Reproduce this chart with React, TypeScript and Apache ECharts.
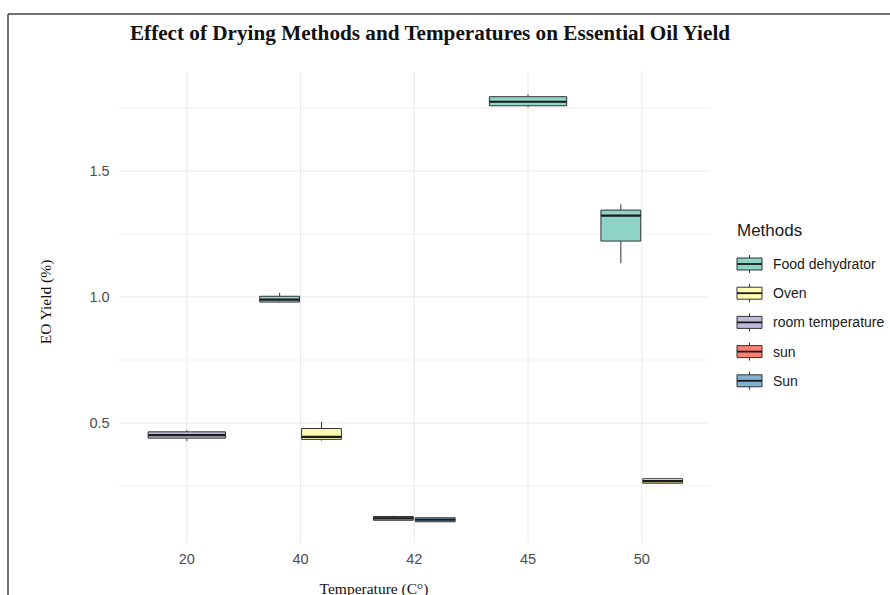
import React, { useEffect, useRef } from "react";
import * as echarts from "echarts";

const temperatures = ["20", "40", "42", "45", "50"];
const methods = ["Food dehydrator", "Oven", "room temperature", "sun", "Sun"];
const methodColors = ["#8DD3C7", "#FFFFB3", "#BEBADA", "#FB8072", "#80B1D3"];

// one entry per box
const boxTemps = ["20", "40", "40", "42", "42", "45", "50", "50"];
const boxMethods = ["room temperature", "Food dehydrator", "Oven", "sun", "Sun", "Food dehydrator", "Food dehydrator", "Oven"];
const boxMin = [0.429, 0.978, 0.43, 0.112, 0.107, 1.753, 1.134, 0.258];
const boxQ1 = [0.44, 0.98, 0.435, 0.114, 0.108, 1.759, 1.222, 0.261];
const boxMedian = [0.452, 0.99, 0.445, 0.122, 0.116, 1.775, 1.323, 0.269];
const boxQ3 = [0.465, 1.003, 0.478, 0.129, 0.124, 1.795, 1.345, 0.279];
const boxMax = [0.472, 1.017, 0.505, 0.132, 0.126, 1.804, 1.368, 0.282];

const yMajorTicks = [0.5, 1.0, 1.5];
const yMinorTicks = [0.25, 0.75, 1.25, 1.75];

const Y_MIN = 0.025;
const Y_MAX = 1.895;
const X_MIN = 0.4;
const X_MAX = 5.6;

export default function App() {
  const ref = useRef<HTMLDivElement>(null);

  useEffect(() => {
    if (!ref.current) return;
    const chart = echarts.init(ref.current, undefined, { renderer: "svg" });

    // dodge layout
    const offsets: number[] = [];
    const widths: number[] = [];
    boxTemps.forEach((t, i) => {
      const group = boxTemps.map((tt, j) => (tt === t ? j : -1)).filter((j) => j >= 0);
      const n = group.length;
      const k = group.indexOf(i);
      if (n === 1) {
        offsets.push(0);
        widths.push(0.68);
      } else {
        offsets.push((k - (n - 1) / 2) * 0.368);
        widths.push(0.35);
      }
    });

    const gridData: number[][] = [
      ...yMajorTicks.map((v) => [0, v]),
      ...yMinorTicks.map((v) => [1, v]),
      ...temperatures.map((_, i) => [2, i + 1]),
    ];

    const boxSeries = methods.map((m, mi) => ({
      type: "custom",
      name: m,
      z: 5,
      encode: { x: 0, y: [1, 2, 3, 4, 5] },
      data: boxTemps
        .map((t, i) => ({ t, i }))
        .filter((d) => boxMethods[d.i] === m)
        .map(({ t, i }) => [
          temperatures.indexOf(t) + 1,
          boxMin[i],
          boxQ1[i],
          boxMedian[i],
          boxQ3[i],
          boxMax[i],
          offsets[i],
          widths[i],
        ]),
      renderItem: (params: any, api: any) => {
        const cx = api.value(0) + api.value(6);
        const w = api.value(7);
        const pMin = api.coord([cx, api.value(1)]);
        const pQ1 = api.coord([cx, api.value(2)]);
        const pMed = api.coord([cx, api.value(3)]);
        const pQ3 = api.coord([cx, api.value(4)]);
        const pMax = api.coord([cx, api.value(5)]);
        const half = api.size([w, 0])[0] / 2;
        const stroke = "#333333";
        return {
          type: "group",
          children: [
            {
              type: "line",
              shape: { x1: pMax[0], y1: pMax[1], x2: pQ3[0], y2: pQ3[1] },
              style: { stroke, lineWidth: 1 },
            },
            {
              type: "line",
              shape: { x1: pQ1[0], y1: pQ1[1], x2: pMin[0], y2: pMin[1] },
              style: { stroke, lineWidth: 1 },
            },
            {
              type: "rect",
              shape: { x: pQ3[0] - half, y: pQ3[1], width: half * 2, height: pQ1[1] - pQ3[1] },
              style: { fill: methodColors[mi], stroke, lineWidth: 1 },
            },
            {
              type: "line",
              shape: { x1: pMed[0] - half, y1: pMed[1], x2: pMed[0] + half, y2: pMed[1] },
              style: { stroke: "#1a1a1a", lineWidth: 2.2 },
            },
          ],
        };
      },
    }));

    const legendGraphics: any[] = [
      {
        type: "text",
        left: 737,
        top: 222,
        style: { text: "Methods", font: "17px 'Liberation Sans'", fill: "#1a1a1a" },
      },
    ];
    methods.forEach((m, i) => {
      const cy = 264 + i * 29.2;
      legendGraphics.push({
        type: "group",
        children: [
          { type: "line", shape: { x1: 749.5, y1: cy - 9, x2: 749.5, y2: cy + 9 }, style: { stroke: "#333", lineWidth: 1 } },
          { type: "rect", shape: { x: 737, y: cy - 6, width: 25, height: 12 }, style: { fill: methodColors[i], stroke: "#333", lineWidth: 1 } },
          { type: "line", shape: { x1: 737, y1: cy, x2: 762, y2: cy }, style: { stroke: "#1a1a1a", lineWidth: 1.8 } },
          {
            type: "text",
            x: 773,
            y: cy,
            style: { text: m, font: "14px 'Liberation Sans'", fill: "#1a1a1a", textVerticalAlign: "middle" },
          },
        ],
      });
    });

    const option: any = {
      animation: false,
      backgroundColor: "#ffffff",
      grid: { left: 118.6, right: 180, top: 71.5, bottom: 52.3, containLabel: false },
      xAxis: {
        type: "value",
        min: X_MIN,
        max: X_MAX,
        axisLine: { show: false },
        axisTick: { show: false },
        splitLine: { show: false },
        axisLabel: {
          customValues: [1, 2, 3, 4, 5],
          formatter: (v: number) => temperatures[Math.round(v) - 1] ?? "",
          color: "#4d4d4d",
          fontSize: 14.5,
          fontFamily: "'Liberation Sans'",
          margin: 9,
        },
      },
      yAxis: {
        type: "value",
        min: Y_MIN,
        max: Y_MAX,
        axisLine: { show: false },
        axisTick: { show: false },
        splitLine: { show: false },
        axisLabel: {
          customValues: yMajorTicks,
          formatter: (v: number) => v.toFixed(1),
          color: "#4d4d4d",
          fontSize: 14.5,
          fontFamily: "'Liberation Sans'",
          margin: 9,
        },
      },
      graphic: [
        { type: "line", shape: { x1: 8, y1: 14, x2: 890, y2: 14 }, style: { stroke: "#444", lineWidth: 1.5 } },
        { type: "line", shape: { x1: 8, y1: 14, x2: 8, y2: 595 }, style: { stroke: "#444", lineWidth: 1.5 } },
        {
          type: "text",
          x: 430,
          y: 33,
          style: {
            text: "Effect of Drying Methods and Temperatures on Essential Oil Yield",
            font: "bold 21.2px 'Liberation Serif'",
            fill: "#111",
            textAlign: "center",
            textVerticalAlign: "middle",
          },
        },
        {
          type: "text",
          x: 45,
          y: 302,
          rotation: Math.PI / 2,
          style: {
            text: "EO Yield (%)",
            font: "15.5px 'Liberation Serif'",
            fill: "#111",
            textAlign: "center",
            textVerticalAlign: "middle",
          },
        },
        {
          type: "text",
          x: 374,
          y: 588,
          style: {
            text: "Temperature (C°)",
            font: "15.5px 'Liberation Serif'",
            fill: "#111",
            textAlign: "center",
            textVerticalAlign: "middle",
          },
        },
        ...legendGraphics,
      ],
      series: [
        {
          type: "custom",
          name: "grid",
          silent: true,
          z: 1,
          encode: { x: 0, y: 1 },
          data: gridData,
          renderItem: (params: any, api: any) => {
            const kind = api.value(0);
            const v = api.value(1);
            if (kind === 2) {
              const p1 = api.coord([v, Y_MIN]);
              const p2 = api.coord([v, Y_MAX]);
              return { type: "line", shape: { x1: p1[0], y1: p1[1], x2: p2[0], y2: p2[1] }, style: { stroke: "#ebebeb", lineWidth: 1.1 } };
            }
            const p1 = api.coord([X_MIN, v]);
            const p2 = api.coord([X_MAX, v]);
            return {
              type: "line",
              shape: { x1: p1[0], y1: p1[1], x2: p2[0], y2: p2[1] },
              style: { stroke: kind === 0 ? "#ebebeb" : "#f1f1f1", lineWidth: kind === 0 ? 1.1 : 1 },
            };
          },
        },
        ...boxSeries,
      ],
    };

    chart.setOption(option);
    return () => chart.dispose();
  }, []);

  return (
    <div
      ref={ref}
      style={{ position: "fixed", left: 0, top: 0, width: 890, height: 595, background: "#fff" }}
    />
  );
}
